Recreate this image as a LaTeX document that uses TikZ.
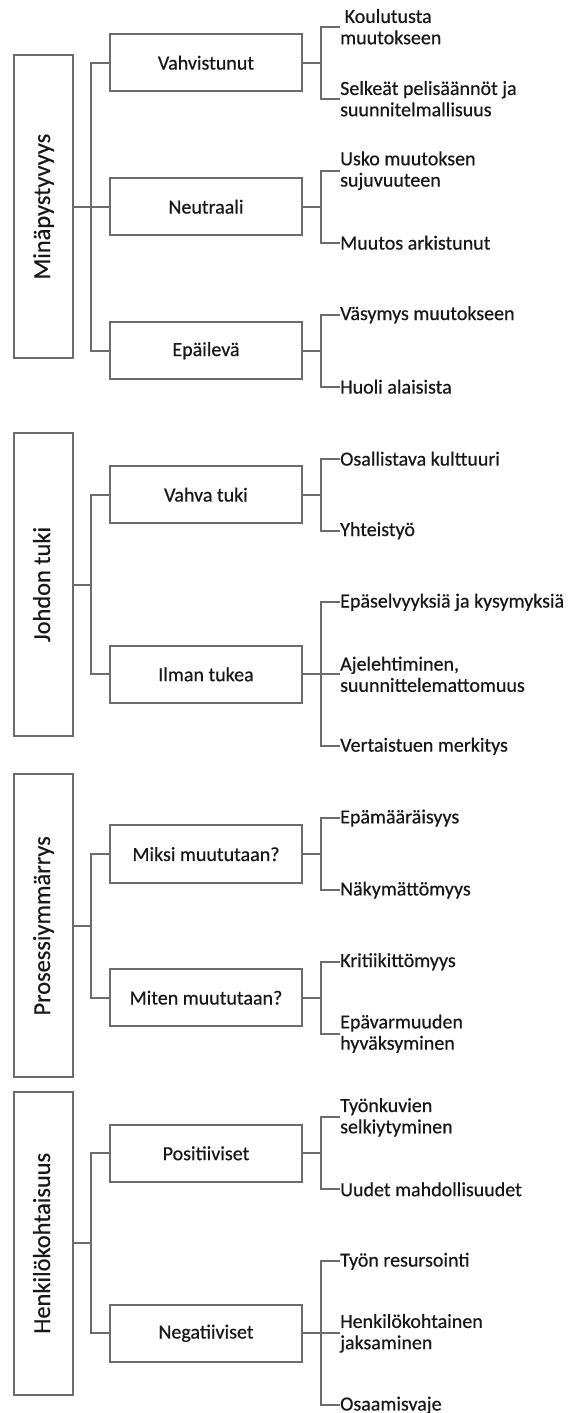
\documentclass[tikz,border=0pt]{standalone}
\usepackage{fontspec}
\setmainfont{Carlito}[FakeBold=0.5]
\definecolor{lg}{RGB}{108,108,108}
\definecolor{tx}{RGB}{24,24,24}
\begin{document}
\begin{tikzpicture}[x=1pt,y=-1pt,
  bigbox/.style={draw=lg,line width=2pt,minimum width=58.5pt,minimum height=303pt,inner sep=0pt},
  subbox/.style={draw=lg,line width=2pt,minimum width=192pt,minimum height=57.5pt,inner sep=0pt,font=\fontsize{20}{21.3}\selectfont,text=tx},
  leaf/.style={anchor=west,inner sep=0pt,align=left,font=\fontsize{20}{21.3}\selectfont,text=tx},
  biglabel/.style={rotate=90,anchor=base,inner sep=0pt,font=\fontsize{24.4}{26}\selectfont,text=tx},
  conn/.style={draw=lg,line width=2pt}]
\useasboundingbox[fill=white] (0,0) rectangle (570,1413);

% ---------- Section 1 ----------
\node[bigbox] (A) at (43.25,206.7) {};
\node[biglabel] (Al) at (50,206.7) {Minäpystyvyys};
\node[subbox] (A1) at (206,62.7) {Vahvistunut};
\node[subbox] (A2) at (206,206.7) {Neutraali};
\node[subbox] (A3) at (206,350.7) {Epäilevä};
\node[leaf] (A1a) at (340,26.7) {\hspace*{4.5pt}Koulutusta\\muutokseen};
\node[leaf] (A1b) at (340,98.7) {Selkeät pelisäännöt ja\\suunnitelmallisuus};
\node[leaf] (A2a) at (340,170.7) {Usko muutoksen\\sujuvuuteen};
\node[leaf] (A2b) at (340,242.7) {Muutos arkistunut};
\node[leaf] (A3a) at (340,314.7) {Väsymys muutokseen};
\node[leaf] (A3b) at (340,386.7) {Huoli alaisista};
\draw[conn] (A.east) -- (A2.west);
\draw[conn] (A1.west) -- ++(-18.5,0) |- (A3.west);
\draw[conn] (A1.east) -- ++(18,0);
\draw[conn] (A2.east) -- ++(18,0);
\draw[conn] (A3.east) -- ++(18,0);
\draw[conn] (A1a.west) -- ++(-19,0) |- (A1b.west);
\draw[conn] (A2a.west) -- ++(-19,0) |- (A2b.west);
\draw[conn] (A3a.west) -- ++(-19,0) |- (A3b.west);

% ---------- Section 2 ----------
\node[bigbox] (B) at (43.25,584.5) {};
\node[biglabel] (Bl) at (50,584.5) {Johdon tuki};
\node[subbox] (B1) at (206,494.7) {Vahva tuki};
\node[subbox] (B2) at (206,674.3) {Ilman tukea};
\node[leaf] (B1a) at (340,458.7) {Osallistava kulttuuri};
\node[leaf] (B1b) at (340,530.7) {Yhteistyö};
\node[leaf] (B2a) at (340,602.3) {Epäselvyyksiä ja kysymyksiä};
\node[leaf] (B2b) at (340,674.3) {Ajelehtiminen,\\suunnittelemattomuus};
\node[leaf] (B2c) at (340,746.3) {Vertaistuen merkitys};
\draw[conn] (B.east) -- ++(18,0);
\draw[conn] (B1.west) -- ++(-18.5,0) |- (B2.west);
\draw[conn] (B1.east) -- ++(18,0);
\draw[conn] (B1a.west) -- ++(-19,0) |- (B1b.west);
\draw[conn] (B2.east) -- (B2b.west);
\draw[conn] (B2a.west) -- ++(-19,0) |- (B2c.west);

% ---------- Section 3 ----------
\node[bigbox] (C) at (43.25,925.9) {};
\node[biglabel] (Cl) at (50,925.9) {Prosessiymmärrys};
\node[subbox] (C1) at (206,854.1) {Miksi muututaan?};
\node[subbox] (C2) at (206,997.7) {Miten muututaan?};
\node[leaf] (C1a) at (340,818.1) {Epämääräisyys};
\node[leaf] (C1b) at (340,890.1) {Näkymättömyys};
\node[leaf] (C2a) at (340,961.7) {Kritiikittömyys};
\node[leaf] (C2b) at (340,1033.7) {Epävarmuuden\\hyväksyminen};
\draw[conn] (C.east) -- ++(18,0);
\draw[conn] (C1.west) -- ++(-18.5,0) |- (C2.west);
\draw[conn] (C1.east) -- ++(18,0);
\draw[conn] (C2.east) -- ++(18,0);
\draw[conn] (C1a.west) -- ++(-19,0) |- (C1b.west);
\draw[conn] (C2a.west) -- ++(-19,0) |- (C2b.west);

% ---------- Section 4 ----------
\node[bigbox] (D) at (43.25,1243.3) {};
\node[biglabel] (Dl) at (50,1243.3) {Henkilökohtaisuus};
\node[subbox] (D1) at (206,1153.3) {Positiiviset};
\node[subbox] (D2) at (206,1333.3) {Negatiiviset};
\node[leaf] (D1a) at (340,1117.3) {Työnkuvien\\selkiytyminen};
\node[leaf] (D1b) at (340,1189.3) {Uudet mahdollisuudet};
\node[leaf] (D2a) at (340,1261.3) {Työn resursointi};
\node[leaf] (D2b) at (340,1333.3) {Henkilökohtainen\\jaksaminen};
\node[leaf] (D2c) at (340,1405.3) {Osaamisvaje};
\draw[conn] (D.east) -- ++(18,0);
\draw[conn] (D1.west) -- ++(-18.5,0) |- (D2.west);
\draw[conn] (D1.east) -- ++(18,0);
\draw[conn] (D1a.west) -- ++(-19,0) |- (D1b.west);
\draw[conn] (D2.east) -- (D2b.west);
\draw[conn] (D2a.west) -- ++(-19,0) |- (D2c.west);
\end{tikzpicture}
\end{document}
